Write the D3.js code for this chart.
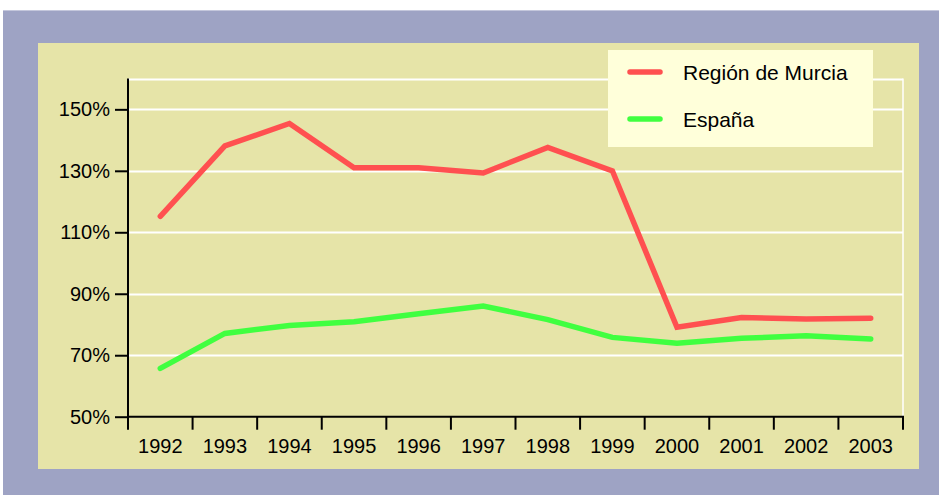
<!DOCTYPE html>
<html><head><meta charset="utf-8">
<script src="https://cdn.jsdelivr.net/npm/d3@7"></script>
<style>html,body{margin:0;padding:0;background:#fff;}svg{display:block;}</style>
</head><body>
<script>
const years = ["1992","1993","1994","1995","1996","1997","1998","1999","2000","2001","2002","2003"];
const murcia = [115.2, 138.1, 145.4, 131.0, 131.0, 129.3, 137.6, 130.0, 79.1, 82.3, 81.8, 82.0];
const espana = [65.7, 77.1, 79.7, 80.9, 83.5, 86.0, 81.6, 75.8, 73.9, 75.5, 76.3, 75.3];
const yTicks = [50, 70, 90, 110, 130, 150];
const seriesNames = ["Región de Murcia", "España"];
const seriesColors = ["#FF5050", "#40FF40"];

const W = 939, H = 495;
const svg = d3.select("body").append("svg").attr("width", W).attr("height", H);
const font = "'Liberation Sans', Arial, sans-serif";

svg.append("rect").attr("x", 3).attr("y", 10).attr("width", 936).attr("height", 485)
  .attr("fill", "#9EA3C4");
svg.append("line").attr("x1", 3).attr("x2", 939).attr("y1", 10.5).attr("y2", 10.5).attr("stroke", "#C4C7DC");
svg.append("rect").attr("x", 38).attr("y", 43).attr("width", 881).attr("height", 426)
  .attr("fill", "#E6E4A8");

const x = d3.scaleBand().domain(years).range([128, 903]);
const y = d3.scaleLinear().domain([50, 160]).range([416.7, 78.6]);

// gridlines
const g = svg.append("g");
g.selectAll("line.grid").data(yTicks.slice(1).concat([160])).join("line")
  .attr("x1", 128).attr("x2", 903)
  .attr("y1", d => Math.round(y(d)) + 0.5).attr("y2", d => Math.round(y(d)) + 0.5)
  .attr("stroke", "#fff").attr("stroke-width", 2);
g.append("line").attr("x1", 903).attr("x2", 903).attr("y1", y(160)).attr("y2", y(50))
  .attr("stroke", "#fff").attr("stroke-width", 1.5);

// y axis
const yAxis = d3.axisLeft(y).tickValues(yTicks).tickSize(13).tickPadding(5)
  .tickFormat(d => d + "%");
const ya = svg.append("g").attr("transform", "translate(128,0)").call(yAxis);
ya.select(".domain").attr("d", `M0,${y(160)}V${y(50)}`).attr("stroke", "#000").attr("stroke-width", 2);
ya.selectAll(".tick line").attr("stroke", "#000").attr("stroke-width", 2);
ya.selectAll(".tick text").attr("font-family", font).attr("font-size", 20).attr("fill", "#000");

// x axis
const xa = svg.append("g");
xa.append("line").attr("x1", 127).attr("x2", 904).attr("y1", y(50)).attr("y2", y(50))
  .attr("stroke", "#000").attr("stroke-width", 2);
const edges = years.map(d => x(d)).concat([x(years[years.length - 1]) + x.bandwidth()]);
xa.selectAll("line.tk").data(edges).join("line")
  .attr("x1", d => d).attr("x2", d => d).attr("y1", y(50)).attr("y2", y(50) + 13)
  .attr("stroke", "#000").attr("stroke-width", 2);
xa.selectAll("text").data(years).join("text")
  .attr("x", d => x(d) + x.bandwidth() / 2).attr("y", 453)
  .attr("text-anchor", "middle").attr("font-family", font).attr("font-size", 20)
  .attr("fill", "#000").text(d => d);

// lines
const line = d3.line().x((d, i) => x(years[i]) + x.bandwidth() / 2).y(d => y(d));
[murcia, espana].forEach((s, k) => {
  svg.append("path").datum(s).attr("d", line).attr("fill", "none")
    .attr("stroke", seriesColors[k]).attr("stroke-width", 5.5)
    .attr("stroke-linecap", "round").attr("stroke-linejoin", "miter");
});

// legend
const lg = svg.append("g");
lg.append("rect").attr("x", 608).attr("y", 50).attr("width", 265).attr("height", 97).attr("fill", "#FFFFDA");
seriesNames.forEach((n, k) => {
  const cy = 72 + k * 47;
  lg.append("line").attr("x1", 630).attr("x2", 660).attr("y1", cy).attr("y2", cy)
    .attr("stroke", seriesColors[k]).attr("stroke-width", 5.5).attr("stroke-linecap", "round");
  lg.append("text").attr("x", 683).attr("y", cy + 7.5).attr("font-family", font)
    .attr("font-size", 21).attr("fill", "#000").text(n);
});
</script>
</body></html>
